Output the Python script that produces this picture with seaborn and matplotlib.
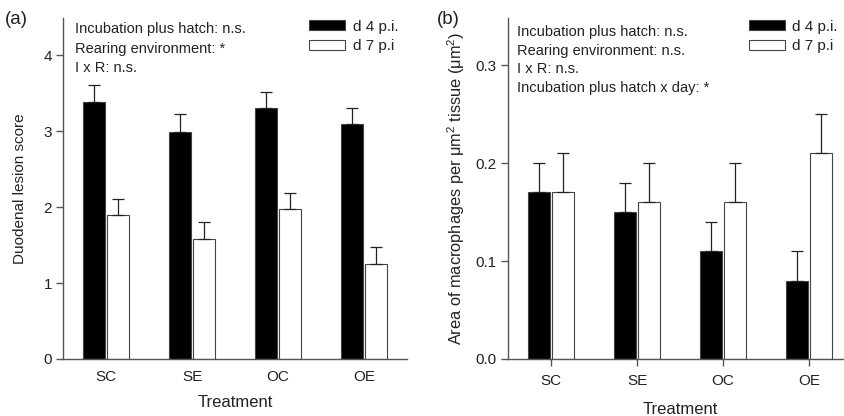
import numpy as np
import pandas as pd
import matplotlib
matplotlib.use("Agg")
import matplotlib.pyplot as plt
from matplotlib.patches import Patch
import seaborn as sns

treatments = ["SC", "SE", "OC", "OE"]
days = ["d 4 p.i.", "d 7 p.i"]

# panel (a): duodenal lesion score
lesion_d4 = [3.39, 2.99, 3.30, 3.10]
lesion_d4_se = [0.22, 0.23, 0.22, 0.21]
lesion_d7 = [1.89, 1.58, 1.97, 1.25]
lesion_d7_se = [0.22, 0.22, 0.22, 0.23]

# panel (b): macrophage area
macro_d4 = [0.17, 0.15, 0.11, 0.08]
macro_d4_se = [0.03, 0.03, 0.03, 0.03]
macro_d7 = [0.17, 0.16, 0.16, 0.21]
macro_d7_se = [0.04, 0.04, 0.04, 0.04]

notes_a = ["Incubation plus hatch: n.s.", "Rearing environment: *", "I x R: n.s."]
notes_b = ["Incubation plus hatch: n.s.", "Rearing environment: n.s.", "I x R: n.s.",
           "Incubation plus hatch x day: *"]

sns.set_theme(style="white")
plt.rcParams["font.family"] = ["Liberation Sans", "DejaVu Sans"]
plt.rcParams["mathtext.default"] = "regular"

ink = "#222222"
spine_col = "#555555"
palette = {days[0]: "black", days[1]: "white"}


def make_df(v4, v7):
    return pd.DataFrame({
        "Treatment": treatments * 2,
        "day": [days[0]] * 4 + [days[1]] * 4,
        "value": list(v4) + list(v7),
    })


def draw_panel(ax, v4, e4, v7, e7, ylim, yticks, fmt, leg_x):
    df = make_df(v4, v7)
    sns.barplot(data=df, x="Treatment", y="value", hue="day", order=treatments,
                hue_order=days, palette=palette, width=0.56, gap=0.08,
                edgecolor="#444444", linewidth=0.8, errorbar=None, legend=False, ax=ax)
    # upper-only error bars at bar centres
    for cont, vals, errs in zip(ax.containers, [v4, v7], [e4, e7]):
        xs = [p.get_x() + p.get_width() / 2 for p in cont.patches]
        ax.errorbar(xs, vals, yerr=[np.zeros(len(errs)), errs], fmt="none",
                    ecolor=ink, elinewidth=0.9, capsize=4, capthick=0.9)
    ax.set_xlim(-0.5, 3.5)
    ax.set_ylim(*ylim)
    ax.set_yticks(yticks)
    ax.set_yticklabels([fmt.format(t) for t in yticks])
    sns.despine(ax=ax)
    for s in ["left", "bottom"]:
        ax.spines[s].set_color(spine_col)
        ax.spines[s].set_linewidth(1.0)
    ax.tick_params(axis="y", direction="out", length=5, width=1, color=spine_col,
                   labelsize=11, labelcolor=ink, pad=3, left=True)
    ax.set_xlabel("Treatment", fontsize=12, color=ink, labelpad=8)
    leg_handles = [Patch(facecolor="black", edgecolor="#444444", linewidth=0.8),
                   Patch(facecolor="white", edgecolor="#444444", linewidth=0.8)]
    ax.legend(leg_handles, days, loc="upper left", bbox_to_anchor=(leg_x, 0.995),
              frameon=False, fontsize=11, handlelength=2.35, handleheight=0.6,
              labelspacing=0.37, borderpad=0, borderaxespad=0, handletextpad=0.5,
              labelcolor=ink)


fig = plt.figure(figsize=(8.45, 4.16), dpi=100)
ax_a = fig.add_axes([63 / 845, 57 / 416, 344 / 845, 341 / 416])
ax_b = fig.add_axes([508 / 845, 57 / 416, 344 / 845, 341 / 416])

draw_panel(ax_a, lesion_d4, lesion_d4_se, lesion_d7, lesion_d7_se, (0, 4.49),
           [0, 1, 2, 3, 4], "{:g}", 0.715)
ax_a.tick_params(axis="x", length=0, labelsize=11, labelcolor=ink, pad=8)
ax_a.set_ylabel("Duodenal lesion score", fontsize=11, color=ink, labelpad=12)

draw_panel(ax_b, macro_d4, macro_d4_se, macro_d7, macro_d7_se, (0, 0.348),
           [0.0, 0.1, 0.2, 0.3], "{:.1f}", 0.70)
ax_b.tick_params(axis="x", direction="out", length=5, width=1, color=spine_col,
                 labelsize=11, labelcolor=ink, pad=6, bottom=True)
ax_b.xaxis.labelpad = 10
ax_b.set_ylabel(r"Area of macrophages per μm$^2$ tissue (μm$^2$)", fontsize=11.8,
                color=ink, labelpad=6)

for i, t in enumerate(notes_a):
    ax_a.text(0.035, (359 - 29 - 19.5 * i) / 341, t, transform=ax_a.transAxes,
              fontsize=10.5, color=ink, va="center", ha="left")
for i, t in enumerate(notes_b):
    ax_b.text(0.026, (359 - 32 - 18.7 * i) / 341, t, transform=ax_b.transAxes,
              fontsize=10.5, color=ink, va="center", ha="left")

fig.text(5 / 845, 1 - 20 / 416, "(a)", fontsize=13.5, color=ink, va="center", ha="left")
fig.text(437 / 845, 1 - 20 / 416, "(b)", fontsize=13.5, color=ink, va="center", ha="left")

fig.savefig("out.png", dpi=100)
